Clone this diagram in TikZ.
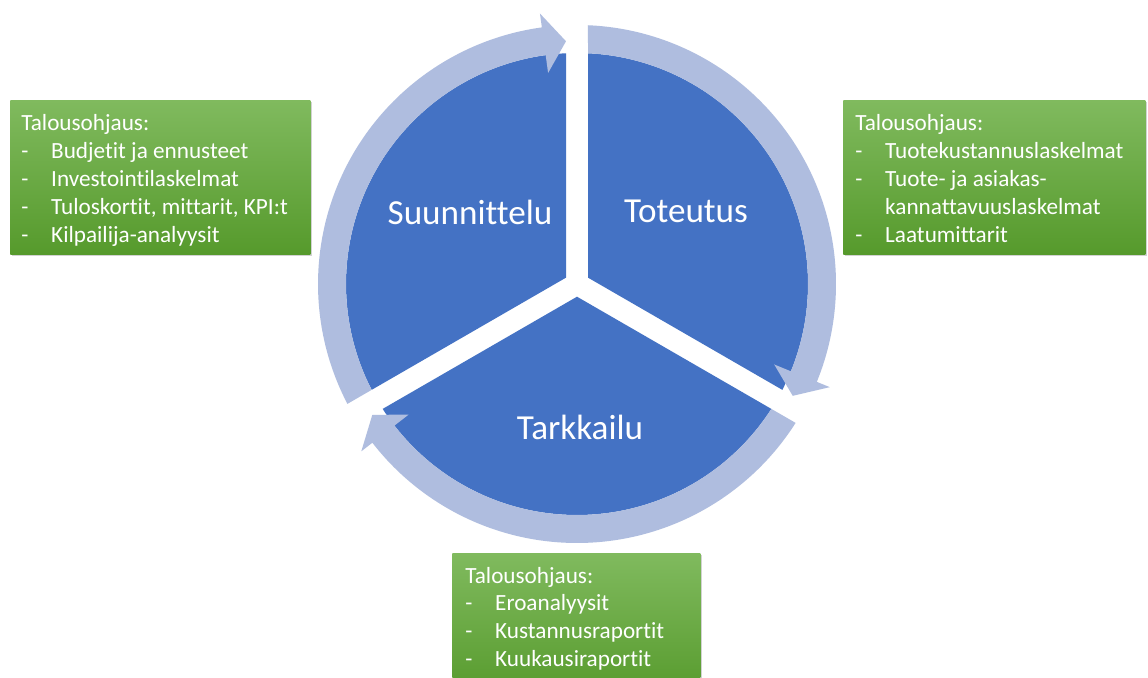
\documentclass[tikz,border=0pt]{standalone}
\usepackage{fontspec}
\setmainfont{Carlito}[Ligatures={CommonOff,ContextualOff}]
\usetikzlibrary{shadows}
\definecolor{segblue}{HTML}{4472C4}
\definecolor{ringblue}{HTML}{AFBDDF}
\definecolor{greentop}{RGB}{128,186,94}
\definecolor{greenbot}{RGB}{86,154,44}
\newcommand\itemdash{\makebox[17pt][l]{-}}
\begin{document}
\begin{tikzpicture}[x=0.02cm,y=0.02cm,
  seg/.style={fill=segblue},
  ringarrow/.style={fill=ringblue},
  phase/.style={text=white,font=\fontsize{20}{24}\selectfont,inner sep=0},
  greenbox/.style={rectangle,top color=greentop,bottom color=greenbot,draw=none,
    drop shadow={shadow xshift=1.2pt,shadow yshift=-1.2pt,opacity=0.35},
    inner sep=0,anchor=north west},
  boxtext/.style={text=white,font=\fontsize{13.2}{15.9}\selectfont,inner sep=0,anchor=base west}
]
\clip (0,0) rectangle (1148,677);
\fill[white] (0,0) rectangle (1148,677);

% green note boxes
\node[greenbox,minimum width=6cm,minimum height=3.08cm] (planbox) at (10,577) {};
\node[greenbox,minimum width=6.04cm,minimum height=3.08cm] (execbox) at (843,577) {};
\node[greenbox,minimum width=4.96cm,minimum height=2.9cm] (monbox) at (452,124) {};

\node[boxtext] (planlist) at (21,546) {\begin{tabular}[t]{@{}l@{}}
Talousohjaus:\\
\itemdash Budjetit ja ennusteet\\
\itemdash Investointilaskelmat\\
\itemdash Tuloskortit, mittarit, KPI:t\\
\itemdash Kilpailija-analyysit
\end{tabular}};
\node[boxtext] (execlist) at (855,546) {\begin{tabular}[t]{@{}l@{}}
Talousohjaus:\\
\itemdash Tuotekustannuslaskelmat\\
\itemdash Tuote- ja asiakas-\\
\hspace*{17pt}kannattavuuslaskelmat\\
\itemdash Laatumittarit
\end{tabular}};
\node[boxtext] (monlist) at (465,94) {\begin{tabular}[t]{@{}l@{}}
Talousohjaus:\\
\itemdash Eroanalyysit\\
\itemdash Kustannusraportit\\
\itemdash Kuukausiraportit
\end{tabular}};

% segmented cycle
\begin{scope}[shift={(577,393)}]
  \fill[seg] (150:12.7) -- (92.73:231) arc[start angle=92.73,end angle=207.27,radius=231] -- cycle;
  \fill[seg] (30:12.7) -- (-27.27:231) arc[start angle=-27.27,end angle=87.27,radius=231] -- cycle;
  \fill[seg] (-90:12.7) -- (-147.27:231) arc[start angle=-147.27,end angle=-32.73,radius=231] -- cycle;
  \foreach \g in {90,-30,210} {
    \fill[ringarrow] ({\g-2.43}:259) arc[start angle=\g-2.43,end angle=\g-112.2,radius=259]
      -- ({\g-112.2}:273) -- ({\g-117.4}:243) -- ({\g-112.2}:213) -- ({\g-112.2}:231)
      arc[start angle=\g-112.2,end angle=\g-2.73,radius=231] -- cycle;
  }
  \node[phase] (plan) at (-107,72) {Suunnittelu};
  \node[phase] (exec) at (109,73) {Toteutus};
  \node[phase] (mon) at (3,-143) {Tarkkailu};
\end{scope}
\end{tikzpicture}
\end{document}
